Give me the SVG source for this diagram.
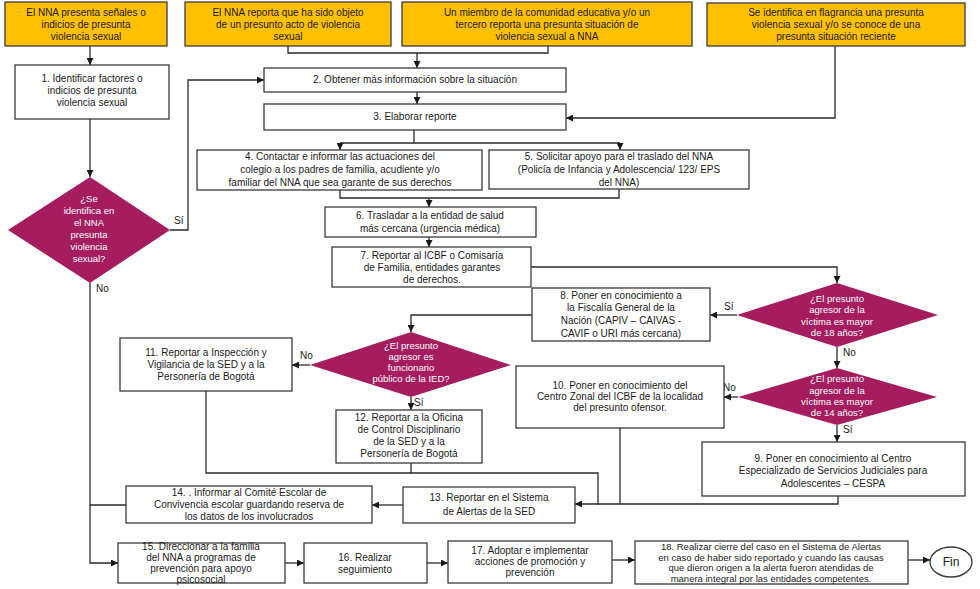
<svg xmlns="http://www.w3.org/2000/svg" width="980" height="589" viewBox="0 0 980 589">
<style>
.bx{fill:#ffffff;stroke:#3a3a3a;stroke-width:1.3}
.yb{fill:#FFC000;stroke:#3a3a3a;stroke-width:1.3}
.dm{fill:#A51D5E;stroke:none}
.t{font-family:"Liberation Sans","Open Sans",sans-serif;font-size:10px;fill:#1a1a1a;text-anchor:middle}
.tw{font-family:"Liberation Sans","Open Sans",sans-serif;font-size:9.5px;fill:#ffffff;text-anchor:middle}
.lb{font-family:"Liberation Sans","Open Sans",sans-serif;font-size:10px;fill:#1a1a1a}
.c{fill:none;stroke:#2a2a2a;stroke-width:1.3}
.a{fill:none;stroke:#2a2a2a;stroke-width:1.3;marker-end:url(#ah)}
</style>
<defs>
<marker id="ah" viewBox="0 0 10 10" refX="10" refY="5" markerWidth="7" markerHeight="7" orient="auto" markerUnits="userSpaceOnUse"><path d="M0,0 L10,5 L0,10 z" fill="#1a1a1a"/></marker>
</defs>
<rect width="980" height="589" fill="#ffffff"/>

<g id="connectors">
<path class="a" d="M90 46 V65"/>
<path class="c" d="M288 46 V53 H548 V46"/>
<path class="a" d="M417 53 V68"/>
<path class="a" d="M417 92 V104"/>
<path class="a" d="M835 46 V118 H566"/>
<path class="a" d="M90 119 V177"/>
<path class="a" d="M170 230 H188 V80 H264"/>
<path class="a" d="M90 283 V563 H118"/>
<path class="c" d="M126 505 H90"/>
<path class="c" d="M414 130 V143"/>
<path class="c" d="M340 143 H620"/>
<path class="a" d="M340 143 V150"/>
<path class="a" d="M620 143 V150"/>
<path class="c" d="M340 190 V198 H619 V189"/>
<path class="a" d="M429 198 V207"/>
<path class="a" d="M429 237 V247"/>
<path class="a" d="M531 267 H837 V283"/>
<path class="a" d="M737 315 H710"/>
<path class="a" d="M532 315 H411 V332"/>
<path class="a" d="M310 365 H292"/>
<path class="a" d="M411 397 V410"/>
<path class="a" d="M837 347 V368"/>
<path class="a" d="M738 397 H724"/>
<path class="a" d="M837 425 V442"/>
<path class="c" d="M206 391 V473 H598 V505"/>
<path class="c" d="M411 463 V473"/>
<path class="c" d="M620 428 V504"/>
<path class="a" d="M838 496 V504 H575"/>
<path class="a" d="M403 505 H372"/>
<path class="a" d="M285 563 H304"/>
<path class="a" d="M427 563 H448"/>
<path class="a" d="M612 560 H635"/>
<path class="a" d="M908 560 H930"/>
<text class="lb" x="174" y="224">Sí</text>
<text class="lb" x="96" y="292">No</text>
<text class="lb" x="724" y="310">Sí</text>
<text class="lb" x="843" y="356">No</text>
<text class="lb" x="723" y="391">No</text>
<text class="lb" x="843" y="433">Sí</text>
<text class="lb" x="300" y="359">No</text>
<text class="lb" x="414" y="406">Sí</text>
</g>

<g id="startA"><rect class="yb" x="5" y="2" width="162" height="44"/>
<text class="t" x="86" y="16">El NNA presenta señales o</text><text class="t" x="86" y="28">indicios de presunta</text><text class="t" x="86" y="40">violencia sexual</text></g>
<g id="startB"><rect class="yb" x="185" y="2" width="206" height="44"/>
<text class="t" x="288" y="16">El NNA reporta que ha sido objeto</text><text class="t" x="288" y="28">de un presunto acto de violencia</text><text class="t" x="288" y="40">sexual</text></g>
<g id="startC"><rect class="yb" x="402" y="2" width="290" height="44"/>
<text class="t" x="547" y="16">Un miembro de la comunidad educativa y/o un</text><text class="t" x="547" y="28">tercero reporta una presunta  situación de</text><text class="t" x="547" y="40">violencia sexual a NNA</text></g>
<g id="startD"><rect class="yb" x="707" y="3" width="258" height="43"/>
<text class="t" x="836" y="16">Se identifica en flagrancia una presunta</text><text class="t" x="836" y="28">violencia sexual y/o se conoce de una</text><text class="t" x="836" y="40">presunta situación reciente</text></g>

<g id="n1"><rect class="bx" x="15" y="65" width="154" height="54"/>
<text class="t" x="92" y="82">1. Identificar factores o</text><text class="t" x="92" y="94">indicios de presunta</text><text class="t" x="92" y="106">violencia sexual</text></g>
<g id="n2"><rect class="bx" x="264" y="68" width="302" height="24"/>
<text class="t" x="415" y="83">2. Obtener más información sobre la situación</text></g>
<g id="n3"><rect class="bx" x="264" y="104" width="302" height="26"/>
<text class="t" x="415" y="120">3. Elaborar reporte</text></g>
<g id="n4"><rect class="bx" x="197" y="150" width="285" height="40"/>
<text class="t" x="340" y="160">4. Contactar e informar las actuaciones del</text><text class="t" x="340" y="173">colegio a los padres de familia, acudiente y/o</text><text class="t" x="340" y="186">familiar del NNA que sea garante de sus derechos</text></g>
<g id="n5"><rect class="bx" x="489" y="150" width="260" height="39"/>
<text class="t" x="619" y="160">5. Solicitar apoyo para el traslado del NNA</text><text class="t" x="619" y="173">(Policía de Infancia y Adolescencia/ 123/ EPS</text><text class="t" x="619" y="186">del NNA)</text></g>
<g id="n6"><rect class="bx" x="325" y="207" width="211" height="30"/>
<text class="t" x="430" y="219">6. Trasladar a la entidad de salud</text><text class="t" x="430" y="232">más cercana (urgencia médica)</text></g>
<g id="n7"><rect class="bx" x="332" y="247" width="199" height="40"/>
<text class="t" x="432" y="259">7. Reportar al ICBF o Comisaría</text><text class="t" x="432" y="271">de Familia, entidades garantes</text><text class="t" x="432" y="283">de derechos.</text></g>

<g id="d1"><polygon class="dm" points="90,177 170,230 90,283 8,230"/>
<text class="tw" x="89" y="202">¿Se</text><text class="tw" x="89" y="214">identifica en</text><text class="tw" x="89" y="226">el NNA</text><text class="tw" x="89" y="238">presunta</text><text class="tw" x="89" y="250">violencia</text><text class="tw" x="89" y="262">sexual?</text></g>

<g id="d2"><polygon class="dm" points="837,283 938,315 837,347 737,315"/>
<text class="tw" x="837" y="302">¿El presunto</text><text class="tw" x="837" y="313">agresor de la</text><text class="tw" x="837" y="325">víctima es mayor</text><text class="tw" x="837" y="336">de 18 años?</text></g>
<g id="n8"><rect class="bx" x="532" y="288" width="178" height="53"/>
<text class="t" x="621" y="299">8. Poner en conocimiento a</text><text class="t" x="621" y="311">la Fiscalía General de la</text><text class="t" x="621" y="324">Nación (CAPIV – CAIVAS -</text><text class="t" x="621" y="337">CAVIF o URI más cercana)</text></g>
<g id="d3"><polygon class="dm" points="411,332 511,365 411,397 310,365"/>
<text class="tw" x="411" y="349">¿El presunto</text><text class="tw" x="411" y="360">agresor es</text><text class="tw" x="411" y="371">funcionario</text><text class="tw" x="411" y="382">público de la IED?</text></g>
<g id="n11"><rect class="bx" x="120" y="338" width="172" height="53"/>
<text class="t" x="206" y="356">11. Reportar a Inspección y</text><text class="t" x="206" y="368">Vigilancia de la SED y a la</text><text class="t" x="206" y="380">Personería de Bogotá</text></g>
<g id="n12"><rect class="bx" x="336" y="410" width="146" height="53"/>
<text class="t" x="409" y="421">12. Reportar a la Oficina</text><text class="t" x="409" y="433">de Control Disciplinario</text><text class="t" x="409" y="445">de la SED y a la</text><text class="t" x="409" y="457">Personería de Bogotá</text></g>
<g id="n10"><rect class="bx" x="516" y="366" width="208" height="62"/>
<text class="t" x="620" y="389">10. Poner en conocimiento  del</text><text class="t" x="620" y="400">Centro Zonal del ICBF de la localidad</text><text class="t" x="620" y="411">del presunto ofensor.</text></g>
<g id="d4"><polygon class="dm" points="837,368 937,397 837,425 738,397"/>
<text class="tw" x="837" y="382">¿El presunto</text><text class="tw" x="837" y="394">agresor de la</text><text class="tw" x="837" y="405">víctima  es mayor</text><text class="tw" x="837" y="416">de 14 años?</text></g>
<g id="n9"><rect class="bx" x="702" y="442" width="263" height="54"/>
<text class="t" x="833" y="462">9. Poner en conocimiento al Centro</text><text class="t" x="833" y="474">Especializado de Servicios Judiciales para</text><text class="t" x="833" y="487">Adolescentes – CESPA</text></g>
<g id="n13"><rect class="bx" x="403" y="487" width="172" height="36"/>
<text class="t" x="489" y="501">13. Reportar en el Sistema</text><text class="t" x="489" y="515">de Alertas de la SED</text></g>
<g id="n14"><rect class="bx" x="126" y="486" width="246" height="37"/>
<text class="t" x="249" y="496">14. . Informar al Comité Escolar de</text><text class="t" x="249" y="508">Convivencia escolar guardando reserva de</text><text class="t" x="249" y="520">los datos de los involucrados</text></g>
<g id="n15"><rect class="bx" x="118" y="543" width="167" height="40"/>
<text class="t" x="201" y="550">15. Direccionar a la familia</text><text class="t" x="201" y="561">del NNA a programas de</text><text class="t" x="201" y="572">prevención para apoyo</text><text class="t" x="201" y="583">psicosocial</text></g>
<g id="n16"><rect class="bx" x="304" y="543" width="123" height="40"/>
<text class="t" x="365" y="561">16. Realizar</text><text class="t" x="365" y="573">seguimiento</text></g>
<g id="n17"><rect class="bx" x="448" y="541" width="164" height="42"/>
<text class="t" x="530" y="554">17. Adoptar e implementar</text><text class="t" x="530" y="565">acciones de promoción y</text><text class="t" x="530" y="576">prevención</text></g>
<g id="n18"><rect class="bx" x="635" y="541" width="273" height="43"/>
<text class="t" x="771" y="550" style="font-size:9.5px">18. Realizar cierre del caso en el Sistema de Alertas</text><text class="t" x="771" y="561" style="font-size:9.5px">en caso de haber sido reportado y cuando las causas</text><text class="t" x="771" y="571" style="font-size:9.5px">que dieron origen a la alerta fueron atendidas de</text><text class="t" x="771" y="582" style="font-size:9.5px">manera integral por las entidades competentes.</text></g>
<g id="fin"><ellipse class="bx" cx="951" cy="562" rx="21" ry="15"/>
<text class="t" x="951" y="566" style="font-size:12px">Fin</text></g>
</svg>
